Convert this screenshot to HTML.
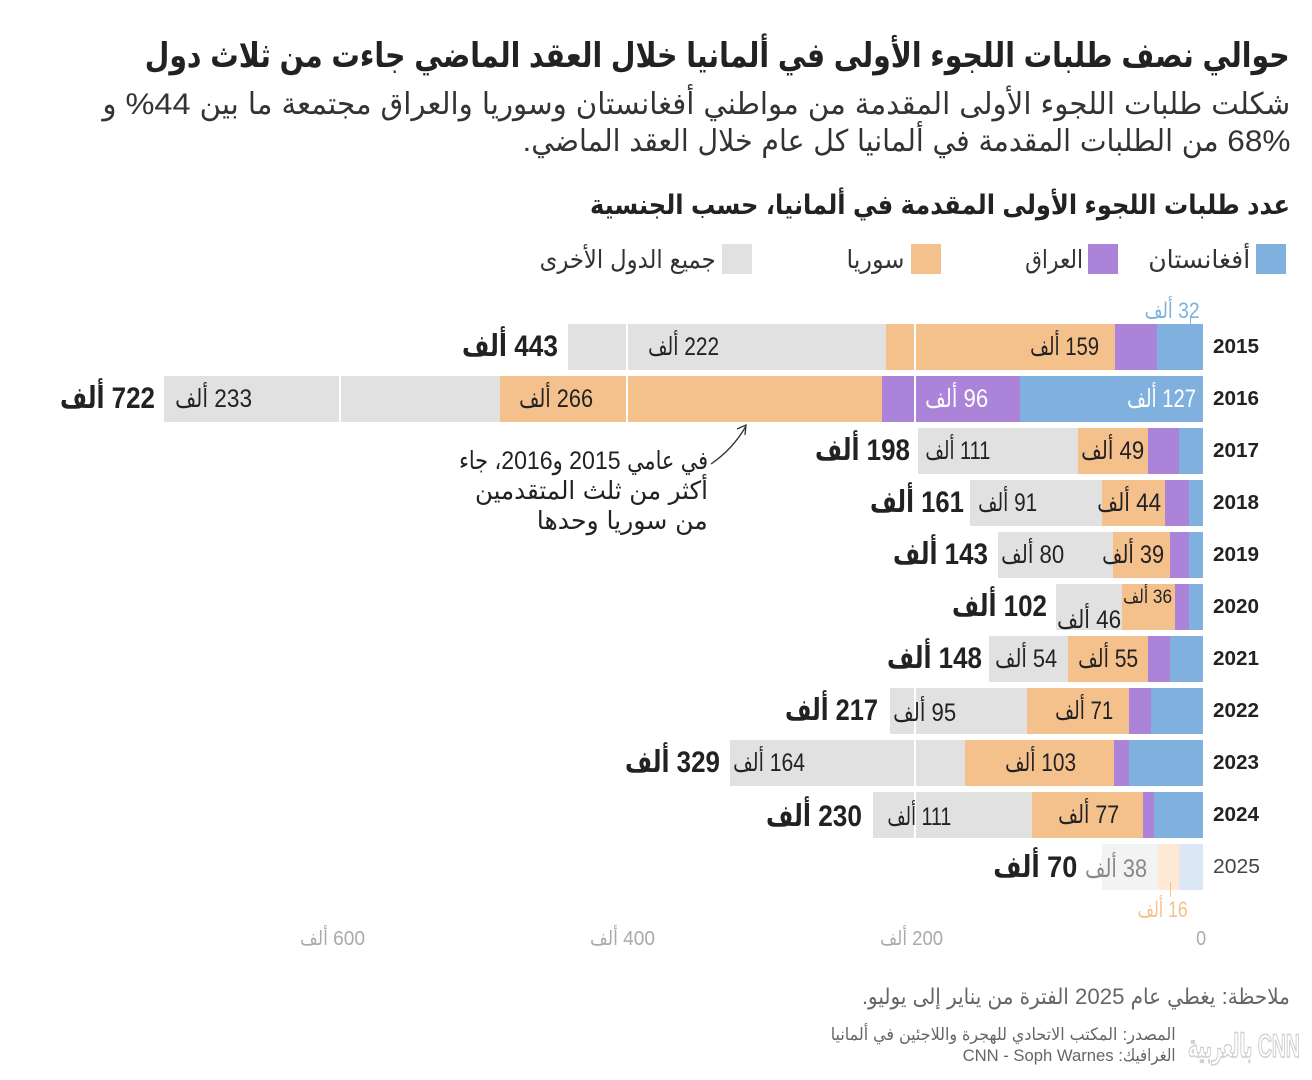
<!DOCTYPE html>
<html lang="ar">
<head>
<meta charset="utf-8">
<style>
  html,body{margin:0;padding:0;}
  body{width:1312px;height:1080px;background:#fff;position:relative;overflow:hidden;
       font-family:"Liberation Sans","DejaVu Sans Condensed","DejaVu Sans",sans-serif;color:#222;}
  .t{position:absolute;white-space:nowrap;direction:rtl;text-align:right;}
  .t span{display:inline-block;transform-origin:100% 50%;}
  .b{font-weight:bold;}
  .seg{position:absolute;height:46px;}
  .g{background:#e1e1e1;} .o{background:#f4c18d;} .p{background:#ab84d9;} .bl{background:#7fb0de;}
  .g2{background:#f3f3f3;} .o2{background:#fde9d5;} .p2{background:#ece0f5;} .bl2{background:#dce7f5;}
  .grid{position:absolute;top:324px;width:2px;height:566px;background:#fff;}
  .sq{position:absolute;width:30px;height:30px;top:244px;}
</style>
</head>
<body>

<!-- Header -->
<div class="t b" style="left:145px;width:1145px;top:34px;height:44px;line-height:44px;font-size:34px;color:#222;"><span>حوالي نصف طلبات اللجوء الأولى في ألمانيا خلال العقد الماضي جاءت من ثلاث دول</span></div>
<div class="t" style="left:102px;width:1188px;top:86px;height:38px;line-height:38px;font-size:30px;color:#333;"><span>شكلت طلبات اللجوء الأولى المقدمة من مواطني أفغانستان وسوريا والعراق مجتمعة ما بين 44% و</span></div>
<div class="t" style="left:522px;width:768px;top:123px;height:38px;line-height:38px;font-size:30px;color:#333;"><span>68% من الطلبات المقدمة في ألمانيا كل عام خلال العقد الماضي.</span></div>
<div class="t b" style="left:590px;width:700px;top:188px;height:34px;line-height:34px;font-size:27px;color:#222;"><span>عدد طلبات اللجوء الأولى المقدمة في ألمانيا، حسب الجنسية</span></div>

<!-- Legend -->
<div class="sq bl" style="left:1256px;"></div>
<div class="t" style="left:1148px;width:102px;top:243px;height:34px;line-height:34px;font-size:25px;color:#333;"><span>أفغانستان</span></div>
<div class="sq p" style="left:1088px;"></div>
<div class="t" style="left:1025px;width:58px;top:243px;height:34px;line-height:34px;font-size:25px;color:#333;"><span>العراق</span></div>
<div class="sq o" style="left:911px;"></div>
<div class="t" style="left:846px;width:58px;top:243px;height:34px;line-height:34px;font-size:25px;color:#333;"><span>سوريا</span></div>
<div class="sq g" style="left:722px;"></div>
<div class="t" style="left:540px;width:176px;top:243px;height:34px;line-height:34px;font-size:25px;color:#333;"><span>جميع الدول الأخرى</span></div>

<!-- Bars -->
<div class="seg g" style="top:324px;left:568px;width:318px;"></div>
<div class="seg o" style="top:324px;left:886px;width:229px;"></div>
<div class="seg p" style="top:324px;left:1115px;width:42px;"></div>
<div class="seg bl" style="top:324px;left:1157px;width:46px;"></div>

<div class="seg g" style="top:376px;left:164px;width:336px;"></div>
<div class="seg o" style="top:376px;left:500px;width:382px;"></div>
<div class="seg p" style="top:376px;left:882px;width:138px;"></div>
<div class="seg bl" style="top:376px;left:1020px;width:183px;"></div>

<div class="seg g" style="top:428px;left:918px;width:160px;"></div>
<div class="seg o" style="top:428px;left:1078px;width:70px;"></div>
<div class="seg p" style="top:428px;left:1148px;width:31px;"></div>
<div class="seg bl" style="top:428px;left:1179px;width:24px;"></div>

<div class="seg g" style="top:480px;left:970px;width:132px;"></div>
<div class="seg o" style="top:480px;left:1102px;width:63px;"></div>
<div class="seg p" style="top:480px;left:1165px;width:24px;"></div>
<div class="seg bl" style="top:480px;left:1189px;width:14px;"></div>

<div class="seg g" style="top:532px;left:998px;width:115px;"></div>
<div class="seg o" style="top:532px;left:1113px;width:57px;"></div>
<div class="seg p" style="top:532px;left:1170px;width:19px;"></div>
<div class="seg bl" style="top:532px;left:1189px;width:14px;"></div>

<div class="seg g" style="top:584px;left:1056px;width:66px;"></div>
<div class="seg o" style="top:584px;left:1122px;width:53px;"></div>
<div class="seg p" style="top:584px;left:1175px;width:14px;"></div>
<div class="seg bl" style="top:584px;left:1189px;width:14px;"></div>

<div class="seg g" style="top:636px;left:989px;width:79px;"></div>
<div class="seg o" style="top:636px;left:1068px;width:80px;"></div>
<div class="seg p" style="top:636px;left:1148px;width:22px;"></div>
<div class="seg bl" style="top:636px;left:1170px;width:33px;"></div>

<div class="seg g" style="top:688px;left:890px;width:137px;"></div>
<div class="seg o" style="top:688px;left:1027px;width:102px;"></div>
<div class="seg p" style="top:688px;left:1129px;width:22px;"></div>
<div class="seg bl" style="top:688px;left:1151px;width:52px;"></div>

<div class="seg g" style="top:740px;left:730px;width:235px;"></div>
<div class="seg o" style="top:740px;left:965px;width:149px;"></div>
<div class="seg p" style="top:740px;left:1114px;width:15px;"></div>
<div class="seg bl" style="top:740px;left:1129px;width:74px;"></div>

<div class="seg g" style="top:792px;left:873px;width:159px;"></div>
<div class="seg o" style="top:792px;left:1032px;width:111px;"></div>
<div class="seg p" style="top:792px;left:1143px;width:11px;"></div>
<div class="seg bl" style="top:792px;left:1154px;width:49px;"></div>

<div class="seg g2" style="top:844px;left:1102px;width:56px;"></div>
<div class="seg o2" style="top:844px;left:1158px;width:21px;"></div>
<div class="seg p2" style="top:844px;left:1179px;width:2px;"></div>
<div class="seg bl2" style="top:844px;left:1181px;width:22px;"></div>

<!-- gridlines over bars -->
<div class="grid" style="left:339px;"></div>
<div class="grid" style="left:626px;"></div>
<div class="grid" style="left:914px;"></div>

<!-- callout ticks -->
<div style="position:absolute;left:1190px;top:317px;width:1px;height:7px;background:#7fb0de;"></div>
<div style="position:absolute;left:1170px;top:882px;width:1px;height:15px;background:#f4c18d;"></div>
<div class="t" style="left:1145px;width:55px;top:297px;height:28px;line-height:28px;font-size:22px;color:#7fb0de;"><span>32 ألف</span></div>
<div class="t" style="left:1138px;width:50px;top:896px;height:28px;line-height:28px;font-size:22px;color:#f4c18d;"><span>16 ألف</span></div>

<!-- Year labels -->
<div class="t b" style="left:1213px;width:46px;top:335px;height:24px;line-height:24px;font-size:20px;direction:ltr;text-align:left;"><span>2015</span></div>
<div class="t b" style="left:1213px;width:46px;top:387px;height:24px;line-height:24px;font-size:20px;direction:ltr;text-align:left;"><span>2016</span></div>
<div class="t b" style="left:1213px;width:46px;top:439px;height:24px;line-height:24px;font-size:20px;direction:ltr;text-align:left;"><span>2017</span></div>
<div class="t b" style="left:1213px;width:46px;top:491px;height:24px;line-height:24px;font-size:20px;direction:ltr;text-align:left;"><span>2018</span></div>
<div class="t b" style="left:1213px;width:46px;top:543px;height:24px;line-height:24px;font-size:20px;direction:ltr;text-align:left;"><span>2019</span></div>
<div class="t b" style="left:1213px;width:46px;top:595px;height:24px;line-height:24px;font-size:20px;direction:ltr;text-align:left;"><span>2020</span></div>
<div class="t b" style="left:1213px;width:46px;top:647px;height:24px;line-height:24px;font-size:20px;direction:ltr;text-align:left;"><span>2021</span></div>
<div class="t b" style="left:1213px;width:46px;top:699px;height:24px;line-height:24px;font-size:20px;direction:ltr;text-align:left;"><span>2022</span></div>
<div class="t b" style="left:1213px;width:46px;top:751px;height:24px;line-height:24px;font-size:20px;direction:ltr;text-align:left;"><span>2023</span></div>
<div class="t b" style="left:1213px;width:46px;top:803px;height:24px;line-height:24px;font-size:20px;direction:ltr;text-align:left;"><span>2024</span></div>
<div class="t" style="left:1213px;width:47px;top:855px;height:24px;line-height:24px;font-size:20px;color:#444;direction:ltr;text-align:left;"><span>2025</span></div>

<!-- Totals (bold) -->
<div class="t b" style="left:462px;width:96px;top:329px;height:36px;line-height:36px;font-size:30px;"><span>443 ألف</span></div>
<div class="t b" style="left:60px;width:95px;top:381px;height:36px;line-height:36px;font-size:30px;"><span>722 ألف</span></div>
<div class="t b" style="left:815px;width:95px;top:433px;height:36px;line-height:36px;font-size:30px;"><span>198 ألف</span></div>
<div class="t b" style="left:870px;width:94px;top:485px;height:36px;line-height:36px;font-size:30px;"><span>161 ألف</span></div>
<div class="t b" style="left:893px;width:95px;top:537px;height:36px;line-height:36px;font-size:30px;"><span>143 ألف</span></div>
<div class="t b" style="left:952px;width:95px;top:589px;height:36px;line-height:36px;font-size:30px;"><span>102 ألف</span></div>
<div class="t b" style="left:887px;width:95px;top:641px;height:36px;line-height:36px;font-size:30px;"><span>148 ألف</span></div>
<div class="t b" style="left:785px;width:93px;top:693px;height:36px;line-height:36px;font-size:30px;"><span>217 ألف</span></div>
<div class="t b" style="left:625px;width:95px;top:745px;height:36px;line-height:36px;font-size:30px;"><span>329 ألف</span></div>
<div class="t b" style="left:766px;width:96px;top:799px;height:36px;line-height:36px;font-size:30px;"><span>230 ألف</span></div>
<div class="t b" style="left:993px;width:84px;top:850px;height:36px;line-height:36px;font-size:30px;"><span>70 ألف</span></div>

<!-- Inner labels -->
<div class="t" style="left:648px;width:71px;top:331px;height:32px;line-height:32px;font-size:25px;"><span>222 ألف</span></div>
<div class="t" style="left:1030px;width:69px;top:331px;height:32px;line-height:32px;font-size:25px;"><span>159 ألف</span></div>

<div class="t" style="left:175px;width:77px;top:383px;height:32px;line-height:32px;font-size:25px;"><span>233 ألف</span></div>
<div class="t" style="left:519px;width:74px;top:383px;height:32px;line-height:32px;font-size:25px;"><span>266 ألف</span></div>
<div class="t" style="left:925px;width:63px;top:383px;height:32px;line-height:32px;font-size:25px;color:#fff;"><span>96 ألف</span></div>
<div class="t" style="left:1127px;width:69px;top:383px;height:32px;line-height:32px;font-size:25px;color:#fff;"><span>127 ألف</span></div>

<div class="t" style="left:925px;width:65px;top:435px;height:32px;line-height:32px;font-size:25px;"><span>111 ألف</span></div>
<div class="t" style="left:1081px;width:63px;top:435px;height:32px;line-height:32px;font-size:25px;"><span>49 ألف</span></div>

<div class="t" style="left:978px;width:59px;top:487px;height:32px;line-height:32px;font-size:25px;"><span>91 ألف</span></div>
<div class="t" style="left:1097px;width:64px;top:487px;height:32px;line-height:32px;font-size:25px;"><span>44 ألف</span></div>

<div class="t" style="left:1001px;width:63px;top:539px;height:32px;line-height:32px;font-size:25px;"><span>80 ألف</span></div>
<div class="t" style="left:1102px;width:62px;top:539px;height:32px;line-height:32px;font-size:25px;"><span>39 ألف</span></div>

<div class="t" style="left:1057px;width:64px;top:604px;height:32px;line-height:32px;font-size:25px;"><span>46 ألف</span></div>
<div class="t" style="left:1123px;width:49px;top:586px;height:24px;line-height:24px;font-size:19px;"><span>36 ألف</span></div>

<div class="t" style="left:995px;width:62px;top:643px;height:32px;line-height:32px;font-size:25px;"><span>54 ألف</span></div>
<div class="t" style="left:1078px;width:60px;top:643px;height:32px;line-height:32px;font-size:25px;"><span>55 ألف</span></div>

<div class="t" style="left:893px;width:63px;top:697px;height:32px;line-height:32px;font-size:25px;"><span>95 ألف</span></div>
<div class="t" style="left:1055px;width:58px;top:695px;height:32px;line-height:32px;font-size:25px;"><span>71 ألف</span></div>

<div class="t" style="left:733px;width:72px;top:747px;height:32px;line-height:32px;font-size:25px;"><span>164 ألف</span></div>
<div class="t" style="left:1005px;width:71px;top:747px;height:32px;line-height:32px;font-size:25px;"><span>103 ألف</span></div>

<div class="t" style="left:887px;width:64px;top:801px;height:32px;line-height:32px;font-size:25px;"><span>111 ألف</span></div>
<div class="t" style="left:1058px;width:61px;top:799px;height:32px;line-height:32px;font-size:25px;"><span>77 ألف</span></div>

<div class="t" style="left:1085px;width:62px;top:853px;height:32px;line-height:32px;font-size:25px;color:#888;"><span>38 ألف</span></div>

<!-- Annotation -->
<div class="t" style="left:459px;width:249px;top:445px;height:32px;line-height:32px;font-size:25px;"><span>في عامي 2015 و2016، جاء</span></div>
<div class="t" style="left:475px;width:233px;top:475px;height:32px;line-height:32px;font-size:25px;"><span>أكثر من ثلث المتقدمين</span></div>
<div class="t" style="left:537px;width:171px;top:505px;height:32px;line-height:32px;font-size:25px;"><span>من سوريا وحدها</span></div>
<svg style="position:absolute;left:0;top:0;" width="1312" height="1080">
  <path d="M711,464 C724,455 737,442 746,426" fill="none" stroke="#333" stroke-width="1.3"/>
  <path d="M737,429 L746,425 L745,435" fill="none" stroke="#333" stroke-width="1.3"/>
</svg>

<!-- Axis -->
<div class="t" style="left:300px;width:65px;top:926px;height:26px;line-height:26px;font-size:20px;color:#aaa;"><span>600 ألف</span></div>
<div class="t" style="left:590px;width:65px;top:926px;height:26px;line-height:26px;font-size:20px;color:#aaa;"><span>400 ألف</span></div>
<div class="t" style="left:880px;width:63px;top:926px;height:26px;line-height:26px;font-size:20px;color:#aaa;"><span>200 ألف</span></div>
<div class="t" style="left:1196px;width:10px;top:926px;height:26px;line-height:26px;font-size:20px;color:#aaa;"><span>0</span></div>

<!-- Footer -->
<div class="t" style="left:862px;width:428px;top:982px;height:30px;line-height:30px;font-size:22px;color:#666;"><span>ملاحظة: يغطي عام 2025 الفترة من يناير إلى يوليو.</span></div>
<div class="t" style="left:831px;width:345px;top:1024px;height:22px;line-height:22px;font-size:17px;color:#666;"><span>المصدر: المكتب الاتحادي للهجرة واللاجئين في ألمانيا</span></div>
<div class="t" style="left:963px;width:213px;top:1045px;height:22px;line-height:22px;font-size:17px;color:#666;"><span>الغرافيك: CNN - Soph Warnes</span></div>
<div class="t b" style="left:1188px;width:112px;top:1028px;height:36px;line-height:36px;font-size:32px;color:#fff;-webkit-text-stroke:1.5px #cfcfcf;"><span>CNN بالعربية</span></div>

<script>
(function(){
  var els=document.querySelectorAll('.t');
  for(var i=0;i<els.length;i++){
    var d=els[i], s=d.querySelector('span');
    if(!s) continue;
    var target=d.clientWidth, nat=s.getBoundingClientRect().width;
    if(nat>0&&target>0){
      var k=target/nat;
      if(d.style.direction==='ltr'){s.style.transformOrigin='0 50%';}
      s.style.transform='scaleX('+k+')';
    }
  }
})();
</script>
</body>
</html>
